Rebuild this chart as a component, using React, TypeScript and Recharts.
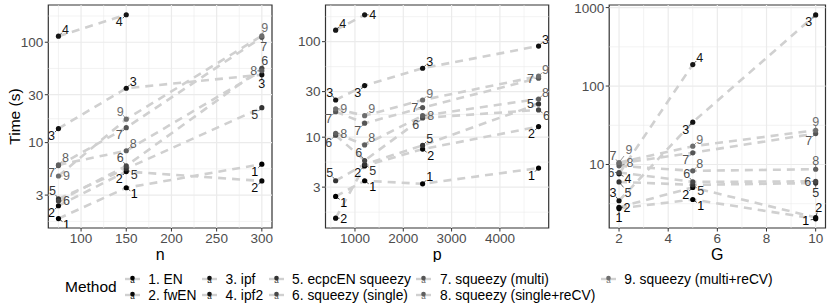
import React from 'react';
import { LineChart, Line, XAxis, YAxis, ReferenceLine, ReferenceArea } from 'recharts';

const FONT = '"Liberation Sans", Arial, Helvetica, sans-serif';

const methods = [
  '1. EN',
  '2. fwEN',
  '3. ipf',
  '4. ipf2',
  '5. ecpcEN squeezy',
  '6. squeezy (single)',
  '7. squeezy (multi)',
  '8. squeezy (single+reCV)',
  '9. squeezy (multi+reCV)',
];
const methodColors = ['#000000', '#080808', '#111111', '#161616', '#333333', '#474747', '#555555', '#5f5f5f', '#6e6e6e'];

// panel n
const nValues = [75, 150, 300];
const nTimes = [
  [1.75, 3.55, 6.1],
  [2.35, 5.15, 4.15],
  [13.8, 34.8, 47.5],
  [115, 188, null],
  [2.75, 5.5, 22.3],
  [2.62, 5.86, 55],
  [5.9, 14.1, 112],
  [6.0, 8.3, 52],
  [4.65, 17.1, 116],
];
const nLabelPos = [
  ['dr', 'dr', 'dl'],
  ['dl', 'dl', 'dl'],
  ['dl', 'ur', 'd'],
  ['ur', 'dl', ''],
  ['ul', 'dr', 'dl'],
  ['r', 'ul', 'u2'],
  ['dl', 'dl', 'd2'],
  ['ur', 'ur', 'l'],
  ['r', 'ul', 'u2'],
];

// panel p
const pValues = [600, 1200, 2400, 4800];
const pTimes = [
  [2.4, 3.5, 3.25, 4.75],
  [1.42, 5.0, 7.5, 12.9],
  [24.5, 34.7, 52.7, 90],
  [132, 191, null, null],
  [3.5, 5.2, 8.2, 22.3],
  [10.5, 5.7, 15.9, 19.3],
  [18.5, 14.0, 20.4, 41.5],
  [11.0, 8.3, 16.8, 25.1],
  [19.8, 16.8, 24.5, 43.5],
];
const pLabelPos = [
  ['dr', 'dr', 'ur', 'dl'],
  ['r', 'dl', 'dr', 'dl'],
  ['ul', 'dl', 'ur', 'ur'],
  ['ur', 'r', '', ''],
  ['ul', 'dr', 'ur', 'l'],
  ['dl', 'ul', 'dl', 'dr'],
  ['dl', 'dl', 'l', 'l'],
  ['r', 'ur', 'r', 'ur'],
  ['r', 'ur', 'ur', 'ur'],
];

// panel G
const gValues = [2, 5, 10];
const gTimes = [
  [2.75, 3.58, 2.03],
  [2.85, 5.1, 2.11],
  [3.45, 34.6, 806],
  [7.6, 188, null],
  [6.0, 5.5, 5.8],
  [7.9, 6.0, 6.1],
  [10.3, 14.1, 24.8],
  [9.6, 8.3, 8.7],
  [10.6, 17.1, 27.3],
];
const gLabelPos = [
  ['d', 'dr', 'l2'],
  ['r', 'dl', 'u3'],
  ['ul', 'dl', 'dl'],
  ['r2', 'ur', ''],
  ['DR', 'dr', 'd'],
  ['l', 'ul', 'l'],
  ['ul', 'dl', 'dl'],
  ['R', 'ur', 'u'],
  ['UR', 'ur', 'u'],
];

const OFFSETS: Record<string, [number, number]> = {
  r: [8, 0],
  R: [11, -3],
  r2: [9, 5],
  l: [-8, 0],
  l2: [-10, 2],
  u: [0, -9],
  u2: [3, -8],
  u3: [3, -10],
  d: [0, 9],
  d2: [2, 9],
  ur: [7, -7],
  UR: [10, -13],
  ul: [-6, -8],
  dr: [8, 6],
  DR: [9, 11],
  dl: [-7, 7],
};

const renderDot = (color: string) => (props: any) => {
  const { cx, cy, payload, index } = props;
  if (cx == null || cy == null) return <g key={`e-${index}`} />;
  const [dx, dy] = OFFSETS[payload.pos] ?? [7, -7];
  return (
    <g key={`d-${index}`}>
      <line x1={cx} y1={cy} x2={cx + dx * 0.5} y2={cy + dy * 0.5} stroke={color} strokeWidth={0.7} />
      <circle cx={cx} cy={cy} r={2.6} fill={color} />
      <text x={cx + dx} y={cy + dy} dy="0.36em" textAnchor="middle" fill={color} fontSize={12.5} fontFamily={FONT}>
        {payload.label}
      </text>
    </g>
  );
};

interface PanelProps {
  left: number;
  width: number;
  yAxisWidth: number;
  rightMargin: number;
  xValues: number[];
  times: (number | null)[][];
  labelPos: string[][];
  xDomain: [number, number];
  xTicks: number[];
  xMinor: number[];
  yDomain: [number, number];
  yTicks: number[];
  yMinor: number[];
  title: string;
}

function Panel(p: PanelProps) {
  const series = methods.map((name, i) => ({
    name,
    color: methodColors[i],
    data: p.xValues
      .map((x, j) => ({ x, y: p.times[i][j], pos: p.labelPos[i][j], label: String(i + 1) }))
      .filter((d) => d.y != null),
  }));
  const tickStyle = { fill: '#4D4D4D', fontSize: 13.5, fontFamily: FONT };

  return (
    <div style={{ position: 'absolute', left: p.left, top: 0 }}>
      <LineChart width={p.width} height={262} margin={{ top: 5, right: p.rightMargin, bottom: 0, left: 0 }}>
        {p.yMinor.map((v) => (
          <ReferenceLine key={`ym-${v}`} y={v} stroke="#EBEBEB" strokeWidth={0.6} />
        ))}
        {p.xMinor.map((v) => (
          <ReferenceLine key={`xm-${v}`} x={v} stroke="#EBEBEB" strokeWidth={0.6} />
        ))}
        {p.yTicks.map((v) => (
          <ReferenceLine key={`yM-${v}`} y={v} stroke="#EBEBEB" strokeWidth={1.2} />
        ))}
        {p.xTicks.map((v) => (
          <ReferenceLine key={`xM-${v}`} x={v} stroke="#EBEBEB" strokeWidth={1.2} />
        ))}
        <XAxis
          type="number"
          dataKey="x"
          domain={p.xDomain}
          ticks={p.xTicks}
          allowDataOverflow
          axisLine={false}
          tickLine={{ stroke: '#333333' }}
          tickSize={3.5}
          tickMargin={1.5}
          tick={tickStyle}
          height={34}
          label={{ value: p.title, position: 'insideBottom', offset: 2, fill: '#000', fontSize: 16, fontFamily: FONT }}
        />
        <YAxis
          type="number"
          scale="log"
          domain={p.yDomain}
          ticks={p.yTicks}
          allowDataOverflow
          axisLine={false}
          tickLine={{ stroke: '#333333' }}
          tickSize={3.5}
          tickMargin={1.5}
          tick={tickStyle}
          width={p.yAxisWidth}
        />
        {series.map((s) => (
          <Line
            key={`l-${s.name}`}
            data={s.data}
            dataKey="y"
            type="linear"
            stroke="#D0D0D0"
            strokeWidth={2.6}
            strokeDasharray="8 6"
            dot={false}
            activeDot={false}
            isAnimationActive={false}
          />
        ))}
        {series.map((s) => (
          <Line
            key={`p-${s.name}`}
            data={s.data}
            dataKey="y"
            type="linear"
            stroke="none"
            dot={renderDot(s.color)}
            activeDot={false}
            isAnimationActive={false}
          />
        ))}
        <ReferenceArea
          x1={p.xDomain[0]}
          x2={p.xDomain[1]}
          y1={p.yDomain[0]}
          y2={p.yDomain[1]}
          fill="none"
          stroke="#333333"
          strokeWidth={1.2}
          ifOverflow="visible"
        />
      </LineChart>
    </div>
  );
}

function LegendKey({ color }: { color: string }) {
  return (
    <svg width={17} height={16} style={{ display: 'block' }}>
      <line x1={1} y1={8} x2={16} y2={8} stroke="#D0D0D0" strokeWidth={2.4} />
      <text x={8.5} y={12} textAnchor="middle" fontSize={8} fill={color} fontFamily={FONT}>
        a
      </text>
      <circle cx={8.5} cy={7} r={2.3} fill={color} />
    </svg>
  );
}

export default function App() {
  return (
    <div style={{ position: 'absolute', left: 0, top: 0, width: 830, height: 306, background: '#fff', fontFamily: FONT }}>
      <svg width={30} height={262} style={{ position: 'absolute', left: 0, top: 0 }}>
        <text transform="translate(20,116.5) rotate(-90)" textAnchor="middle" fontSize={15.5} fontFamily={FONT} fill="#000">
          Time (s)
        </text>
      </svg>
      <Panel
        left={0}
        width={280}
        yAxisWidth={48.3}
        rightMargin={8}
        xValues={nValues}
        times={nTimes}
        labelPos={nLabelPos}
        xDomain={[63.75, 311.25]}
        xTicks={[100, 150, 200, 250, 300]}
        xMinor={[75, 125, 175, 225, 275]}
        yDomain={[1.41, 235]}
        yTicks={[3, 10, 30, 100]}
        yMinor={[1.64, 5.48, 17.3, 54.8, 182.6]}
        title="n"
      />
      <Panel
        left={290}
        width={265}
        yAxisWidth={35.5}
        rightMargin={6.3}
        xValues={pValues}
        times={pTimes}
        labelPos={pLabelPos}
        xDomain={[390, 5010]}
        xTicks={[1000, 2000, 3000, 4000]}
        xMinor={[500, 1500, 2500, 3500, 4500]}
        yDomain={[1.12, 242]}
        yTicks={[3, 10, 30, 100]}
        yMinor={[1.64, 5.48, 17.3, 54.8, 182.6]}
        title="p"
      />
      <Panel
        left={570}
        width={260}
        yAxisWidth={39.2}
        rightMargin={4.5}
        xValues={gValues}
        times={gTimes}
        labelPos={gLabelPos}
        xDomain={[1.6, 10.4]}
        xTicks={[2, 4, 6, 8, 10]}
        xMinor={[3, 5, 7, 9]}
        yDomain={[1.55, 1079]}
        yTicks={[10, 100, 1000]}
        yMinor={[3.16, 31.6, 316]}
        title="G"
      />
      <div style={{ position: 'absolute', left: 65, top: 271, display: 'flex', alignItems: 'center' }}>
        <div style={{ fontSize: 15.5, marginRight: 7, color: '#000' }}>Method</div>
        <div
          style={{
            display: 'grid',
            gridTemplateRows: 'repeat(2, 16px)',
            gridAutoFlow: 'column',
            gridAutoColumns: 'max-content',
            columnGap: 4.5,
          }}
        >
          {methods.map((m, i) => (
            <div key={m} style={{ display: 'flex', alignItems: 'center' }}>
              <LegendKey color={methodColors[i]} />
              <span style={{ marginLeft: 7.5, fontSize: 13.8, color: '#000', whiteSpace: 'nowrap' }}>{m}</span>
            </div>
          ))}
        </div>
      </div>
    </div>
  );
}
